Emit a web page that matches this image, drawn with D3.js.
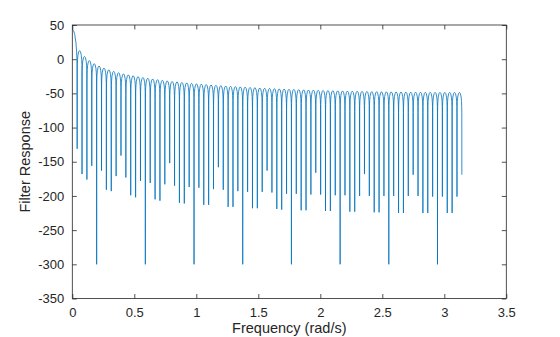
<!DOCTYPE html>
<html><head><meta charset="utf-8">
<script src="https://cdn.jsdelivr.net/npm/d3@7"></script>
<style>body{margin:0;background:#fff}text{font-family:"Liberation Sans",Arial,Helvetica,sans-serif;fill:#262626}</style></head>
<body><svg id="c" width="560" height="337"></svg>
<script>
// ---- data ----
const xTicks = [0, 0.5, 1, 1.5, 2, 2.5, 3, 3.5];
const yTicks = [50, 0, -50, -100, -150, -200, -250, -300, -350];
const freqEnd = 3.1416;          // curve ends at pi (rad/s), where the 80th null sits
const nullCount = 80;            // nulls are evenly spaced up to freqEnd
// main lobe: positions as fraction of the first null, values in dB
const mainLobePos = [0, 0.25, 0.5, 0.75, 0.88, 0.95, 0.99];
const mainLobe    = [44, 42, 36, 24, 12, 0, -20];
// peak level of each side lobe (between null k and k+1), dB
const lobePeak = [12.5, 4, -2, -6.5, -10, -13, -15.5, -17.8, -19.7, -21.4,
  -22.9, -24.3, -25.6, -26.8, -27.9, -28.9, -29.9, -30.8, -31.7, -32.5,
  -33.2, -34, -34.7, -35.3, -35.9, -36.5, -37.1, -37.7, -38.2, -38.7,
  -39.2, -39.6, -40.1, -40.5, -40.9, -41.3, -41.7, -42.1, -42.4, -42.7,
  -43.1, -43.4, -43.7, -44, -44.2, -44.5, -44.8, -45, -45.2, -45.5,
  -45.7, -45.9, -46.1, -46.3, -46.4, -46.6, -46.8, -46.9, -47.1, -47.2,
  -47.4, -47.5, -47.6, -47.7, -47.8, -47.9, -48, -48.1, -48.2, -48.2,
  -48.3, -48.4, -48.4, -48.5, -48.5, -48.5, -48.5, -48.5, -48.5];
// depth of each null (k = 1..80), dB
const nullDepth = [-131, -168, -176, -156, -300, -163, -191, -193, -171, -141,
  -173, -199, -202, -178, -300, -181, -205, -207, -183, -152,
  -185, -210, -211, -187, -300, -188, -213, -213, -190, -158,
  -191, -216, -216, -193, -300, -194, -218, -218, -194, -163,
  -195, -219, -220, -197, -300, -197, -221, -221, -198, -166,
  -198, -222, -222, -199, -300, -199, -223, -223, -200, -168,
  -200, -224, -224, -200, -300, -200, -225, -225, -200, -169,
  -200, -225, -225, -201, -300, -201, -225, -225, -201, -169];
// shape of one side lobe relative to its peak (position across lobe, dB offset)
const lobeShapePos = [0.01, 0.03, 0.07, 0.15, 0.3, 0.5, 0.7, 0.85, 0.93, 0.97, 0.99];
const lobeShape    = [-30, -20.5, -13.2, -6.9, -1.8, 0, -1.8, -6.9, -13.2, -20.5, -30];

// ---- build the point list ----
const dw = freqEnd / nullCount;
const pts = [];
mainLobePos.forEach((p, i) => pts.push([p * dw, mainLobe[i]]));
for (let k = 1; k <= nullCount; k++) {
  pts.push([k * dw, nullDepth[k - 1]]);
  if (k < nullCount) {
    lobeShapePos.forEach((p, i) => pts.push([(k + p) * dw, lobePeak[k - 1] + lobeShape[i]]));
  }
}

// ---- chart ----
const svg = d3.select("#c");
const L = 72.3, R = 506.3, T = 25, B = 298.5;
const x = d3.scaleLinear().domain([0, 3.5]).range([L, R]);
const y = d3.scaleLinear().domain([-350, 50]).range([B, T]);
const axisColor = "#262626";
const tl = 4.5;
const fmt = d => String(d);

const gx = svg.append("g").attr("transform", `translate(0,${B})`)
  .call(d3.axisBottom(x).tickValues(xTicks).tickFormat(fmt).tickSize(-tl).tickPadding(9));
const gxt = svg.append("g").attr("transform", `translate(0,${T})`)
  .call(d3.axisTop(x).tickValues(xTicks).tickFormat("").tickSize(-tl));
const gy = svg.append("g").attr("transform", `translate(${L},0)`)
  .call(d3.axisLeft(y).tickValues(yTicks).tickFormat(fmt).tickSize(-tl).tickPadding(8));
const gyr = svg.append("g").attr("transform", `translate(${R},0)`)
  .call(d3.axisRight(y).tickValues(yTicks).tickFormat("").tickSize(-tl));
[gx, gxt, gy, gyr].forEach(g => {
  g.select(".domain").remove();
  g.selectAll(".tick line").attr("stroke", axisColor).attr("stroke-width", 0.8);
  g.selectAll("text").attr("font-size", 13).style("font-family", '"Liberation Sans",Arial,Helvetica,sans-serif').attr("fill", axisColor);
});

svg.append("path").datum(pts)
  .attr("fill", "none").attr("stroke", "#0072BD").attr("stroke-width", 0.8)
  .attr("stroke-linejoin", "round")
  .attr("d", d3.line().x(d => x(d[0])).y(d => y(d[1])));

svg.append("rect").attr("x", L).attr("y", T).attr("width", R - L).attr("height", B - T)
  .attr("fill", "none").attr("stroke", axisColor).attr("stroke-width", 0.8);

svg.append("text").attr("x", (L + R) / 2).attr("y", 333).attr("text-anchor", "middle")
  .attr("font-size", 14.5).text("Frequency (rad/s)");
svg.append("text").attr("transform", `translate(30,${(T + B) / 2}) rotate(-90)`)
  .attr("text-anchor", "middle").attr("font-size", 14.5).text("Filter Response");
</script></body></html>
